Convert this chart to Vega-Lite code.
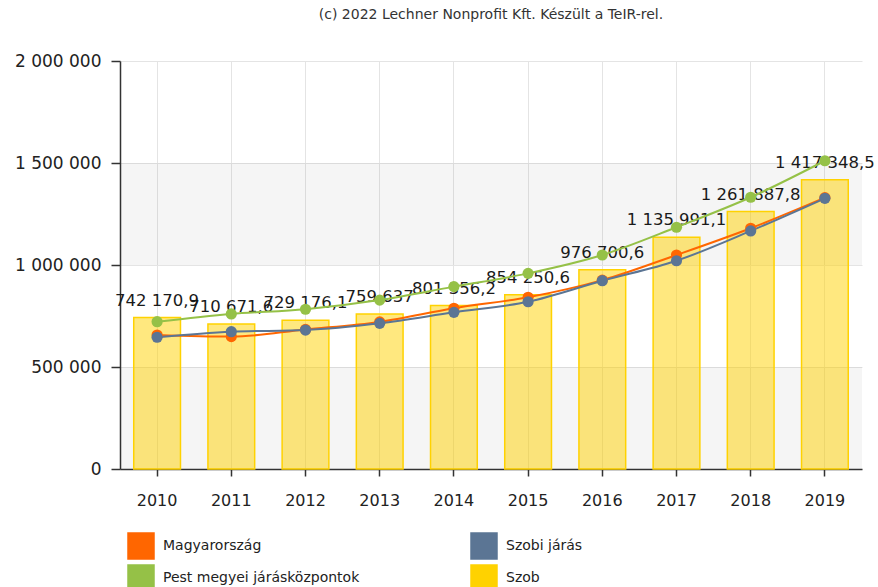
{
  "$schema": "https://vega.github.io/schema/vega-lite/v6.json",
  "width": 742,
  "height": 408,
  "autosize": {"type": "none"},
  "padding": {"left": 120, "top": 61, "right": 16, "bottom": 118},
  "background": "white",
  "title": {
    "text": "(c) 2022 Lechner Nonprofit Kft. Készült a TeIR-rel.",
    "font": "DejaVu Sans",
    "fontSize": 14,
    "fontWeight": "normal",
    "color": "#333333",
    "anchor": "middle",
    "offset": 30
  },
  "config": {
    "locale": {"number": {"decimal": ",", "thousands": " ", "grouping": [3], "currency": ["", ""]}},
    "view": {"stroke": null},
    "axis": {
      "labelFont": "DejaVu Sans",
      "labelFontSize": 16,
      "labelColor": "#222222",
      "domainColor": "#333333",
      "domainWidth": 1.5,
      "tickColor": "#333333",
      "tickWidth": 1.5,
      "gridColor": "#e4e4e4",
      "gridWidth": 1
    },
    "legend": {
      "orient": "none",
      "legendX": 7,
      "legendY": 471,
      "columns": 2,
      "symbolType": "square",
      "symbolSize": 676,
      "labelFont": "DejaVu Sans",
      "labelFontSize": 14,
      "labelColor": "#222222",
      "labelOffset": 8,
      "labelLimit": 400,
      "columnPadding": 108,
      "rowPadding": 0,
      "padding": 0
    }
  },
  "datasets": {
    "main": [
      {"year": "2010", "series": "Szob", "value": 742170.9},
      {"year": "2011", "series": "Szob", "value": 710671.6},
      {"year": "2012", "series": "Szob", "value": 729176.1},
      {"year": "2013", "series": "Szob", "value": 759637},
      {"year": "2014", "series": "Szob", "value": 801356.2},
      {"year": "2015", "series": "Szob", "value": 854250.6},
      {"year": "2016", "series": "Szob", "value": 976700.6},
      {"year": "2017", "series": "Szob", "value": 1135991.1},
      {"year": "2018", "series": "Szob", "value": 1261887.8},
      {"year": "2019", "series": "Szob", "value": 1417348.5},
      {"year": "2010", "series": "Magyarország", "value": 657000},
      {"year": "2011", "series": "Magyarország", "value": 649000},
      {"year": "2012", "series": "Magyarország", "value": 684000},
      {"year": "2013", "series": "Magyarország", "value": 721000},
      {"year": "2014", "series": "Magyarország", "value": 788000},
      {"year": "2015", "series": "Magyarország", "value": 842000},
      {"year": "2016", "series": "Magyarország", "value": 926000},
      {"year": "2017", "series": "Magyarország", "value": 1049000},
      {"year": "2018", "series": "Magyarország", "value": 1180000},
      {"year": "2019", "series": "Magyarország", "value": 1330000},
      {"year": "2010", "series": "Pest megyei járásközpontok", "value": 722000},
      {"year": "2011", "series": "Pest megyei járásközpontok", "value": 760000},
      {"year": "2012", "series": "Pest megyei járásközpontok", "value": 783000},
      {"year": "2013", "series": "Pest megyei járásközpontok", "value": 828000},
      {"year": "2014", "series": "Pest megyei járásközpontok", "value": 894000},
      {"year": "2015", "series": "Pest megyei járásközpontok", "value": 959000},
      {"year": "2016", "series": "Pest megyei járásközpontok", "value": 1049000},
      {"year": "2017", "series": "Pest megyei járásközpontok", "value": 1185000},
      {"year": "2018", "series": "Pest megyei járásközpontok", "value": 1332000},
      {"year": "2019", "series": "Pest megyei járásközpontok", "value": 1511000},
      {"year": "2010", "series": "Szobi járás", "value": 646000},
      {"year": "2011", "series": "Szobi járás", "value": 673000},
      {"year": "2012", "series": "Szobi járás", "value": 681000},
      {"year": "2013", "series": "Szobi járás", "value": 714000},
      {"year": "2014", "series": "Szobi járás", "value": 768000},
      {"year": "2015", "series": "Szobi járás", "value": 820000},
      {"year": "2016", "series": "Szobi járás", "value": 923000},
      {"year": "2017", "series": "Szobi járás", "value": 1021000},
      {"year": "2018", "series": "Szobi járás", "value": 1167000},
      {"year": "2019", "series": "Szobi járás", "value": 1327000}
    ],
    "bands": [
      {"lo": 0, "hi": 500000},
      {"lo": 1000000, "hi": 1500000}
    ]
  },
  "layer": [
    {
      "data": {"name": "bands"},
      "mark": {"type": "rect", "fill": "#000000", "fillOpacity": 0.04},
      "encoding": {
        "y": {"field": "lo", "type": "quantitative", "scale": {"domain": [0, 2000000], "nice": false}},
        "y2": {"field": "hi"}
      }
    },
    {
      "data": {"name": "main"},
      "transform": [{"filter": "datum.series === 'Szob'"}],
      "mark": {"type": "bar", "fillOpacity": 0.5, "stroke": "#ffd200", "strokeWidth": 1.5},
      "encoding": {
        "x": {
          "field": "year", "type": "ordinal",
          "scale": {"paddingInner": 0.37, "paddingOuter": 0.185},
          "axis": {"title": null, "labelAngle": 0, "tickSize": 7, "labelPadding": 16, "grid": true, "bandPosition": 0.5, "domain": true}
        },
        "y": {
          "field": "value", "type": "quantitative",
          "scale": {"domain": [0, 2000000], "nice": false},
          "axis": {"title": null, "values": [0, 500000, 1000000, 1500000, 2000000], "format": ",.0f", "tickSize": 9, "labelPadding": 10, "labelFontSize": 17, "grid": true}
        },
        "color": {
          "field": "series", "type": "nominal",
          "scale": {
            "domain": ["Magyarország", "Pest megyei járásközpontok", "Szobi járás", "Szob"],
            "range": ["#ff6600", "#95c147", "#5b7594", "#ffd200"]
          },
          "legend": {
            "title": null,
            "encode": {
              "symbols": {
                "update": {
                  "fill": {"scale": "color", "field": "value"},
                  "fillOpacity": {"value": 1},
                  "opacity": {"value": 1},
                  "strokeWidth": {"value": 0}
                }
              }
            }
          }
        }
      }
    },
    {
      "data": {"name": "main"},
      "transform": [{"filter": "datum.series === 'Szob'"}],
      "mark": {"type": "text", "baseline": "alphabetic", "align": "center", "dy": -12, "font": "DejaVu Sans", "fontSize": 16.5, "color": "#1a1a1a"},
      "encoding": {
        "x": {"field": "year", "type": "ordinal"},
        "y": {"field": "value", "type": "quantitative"},
        "text": {"field": "value", "type": "quantitative", "format": ",.1~f"}
      }
    },
    {
      "data": {"name": "main"},
      "transform": [{"filter": "datum.series !== 'Szob'"}],
      "mark": {"type": "line", "interpolate": "monotone", "strokeWidth": 2, "point": {"filled": true, "size": 125, "opacity": 1}},
      "encoding": {
        "x": {"field": "year", "type": "ordinal"},
        "y": {"field": "value", "type": "quantitative"},
        "color": {
          "field": "series", "type": "nominal",
          "scale": {
            "domain": ["Magyarország", "Pest megyei járásközpontok", "Szobi járás", "Szob"],
            "range": ["#ff6600", "#95c147", "#5b7594", "#ffd200"]
          }
        }
      }
    }
  ]
}
